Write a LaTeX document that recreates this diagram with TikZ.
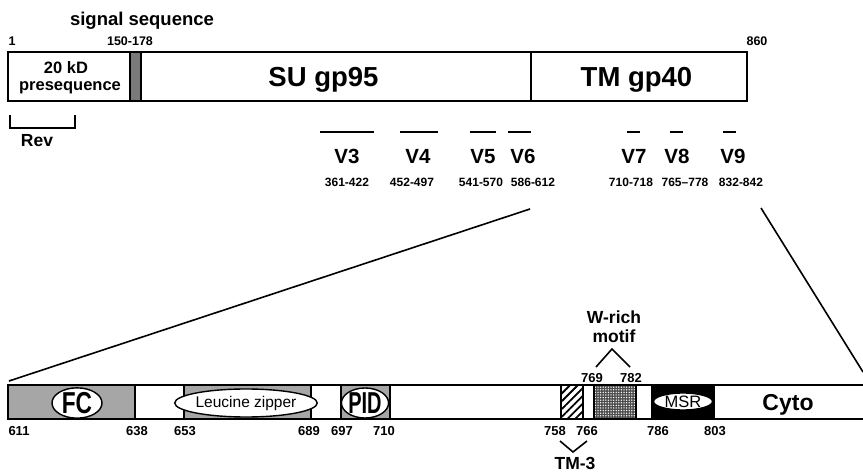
\documentclass[tikz,border=0pt]{standalone}
\usepackage{fontspec}
\setmainfont{Liberation Sans}
\usetikzlibrary{shapes.geometric,patterns.meta}
\definecolor{boxgray}{HTML}{A6A6A6}
\definecolor{siggray}{HTML}{7A7A7A}
\newcommand{\fsz}[1]{\fontsize{#1}{#1}\selectfont}
\tikzset{
  seg/.style={draw, line width=1.7pt, inner sep=0pt, minimum height=49pt},
  bseg/.style={draw, line width=1.6pt, inner sep=0pt, minimum height=34pt},
  oval/.style={ellipse, draw, line width=1.4pt, fill=white, inner sep=0pt},
  lab/.style={anchor=base, inner sep=0pt, font=\bfseries\fsz{12.5}},
  big/.style={anchor=base, inner sep=0pt, font=\bfseries\fsz{27.5}},
  vlab/.style={anchor=base, inner sep=0pt, font=\bfseries\fsz{20.5}},
  mid/.style={anchor=base, inner sep=0pt, font=\bfseries\fsz{17.5}},
  thinline/.style={line width=1.6pt},
}
\begin{document}
\begin{tikzpicture}[x=1pt,y=-1pt]
\useasboundingbox (0,0) rectangle (863,473);
% ---------- top bar ----------
\node[seg, minimum width=122pt] (pre) at (69,76.5) {};
\node[seg, minimum width=11pt, fill=siggray] (sig) at (135.5,76.5) {};
\node[seg, minimum width=390pt] (su) at (336,76.5) {};
\node[seg, minimum width=216pt] (tm) at (639,76.5) {};
\node[anchor=base, inner sep=0pt, font=\bfseries\fsz{16.5}] (t20) at (66,73.5) {20 kD};
\node[anchor=base, inner sep=0pt, font=\bfseries\fsz{16.5}] (tpre) at (70,90.5) {presequence};
\node[big] (tsu) at (323.5,87) {SU gp95};
\node[big] (ttm) at (636.5,87) {TM gp40};
\node[mid, font=\bfseries\fsz{18.5}] (tsig) at (142,26) {signal sequence};
\node[lab] (n1) at (12,46) {1};
\node[lab] (n150) at (130,46) {150-178};
\node[lab] (n860) at (757,46) {860};
% Rev bracket
\draw[thinline] (10,115) -- (10,128) -- (75,128) -- (75,115);
\node[mid] (rev) at (37,147) {Rev};
% V regions
\foreach \a/\b/\c/\name/\rng/\rc in {320/374/347/V3/361-422/347, 400/438/418/V4/452-497/412, 470/496/483/V5/541-570/481, 508/531/523/V6/586-612/533, 627/640/634/V7/710-718/631, 670/683/677/V8/765--778/685, 723/736/733/V9/832-842/741}{
  \draw[line width=1.8pt] (\a,132) -- (\b,132);
  \node[vlab] (l\name) at (\c,164) {\name};
  \node[lab, font=\bfseries\fsz{12}] (r\name) at (\rc,187) {\rng};
}
% ---------- expansion lines ----------
\coordinate (x1) at (530,209);
\coordinate (x2) at (9,381);
\coordinate (x3) at (761,208);
\coordinate (x4) at (863,372);
\draw[thinline] (x1) -- (x2);
\draw[thinline] (x3) -- (x4);
% ---------- bottom bar ----------
\node[bseg, minimum width=127pt, fill=boxgray] (fc) at (71.5,402) {};
\node[bseg, minimum width=127pt, fill=boxgray] (lz) at (247.5,402) {};
\node[bseg, minimum width=49pt, fill=boxgray] (pid) at (365.5,402) {};
\node[bseg, minimum width=22pt, pattern={Lines[angle=45,distance=5.5pt,line width=1.8pt]}] (tm3) at (572,402) {};
\node[bseg, minimum width=42pt, preaction={fill=black!70}, pattern={Dots[distance=2.6pt,radius=0.75pt]}, pattern color=white] (wr) at (615,402) {};
\node[bseg, minimum width=62pt, fill=black] (msr) at (683,402) {};
\draw[line width=1.6pt] (863,385) -- (8,385) -- (8,419) -- (863,419);
\node[oval, minimum width=50pt, minimum height=30pt, font=\bfseries\fsz{27}] (fcE) at (77,403) {\scalebox{0.84}[1.12]{FC}};
\node[oval, minimum width=124pt, minimum height=28pt, font=\fsz{15.5}] (lzE) at (246,403) {Leucine zipper};
\node[oval, minimum width=44pt, minimum height=30pt, font=\bfseries\fsz{27}] (pidE) at (365,403) {\scalebox{0.74}[1.12]{PID}};
\node[oval, minimum width=59pt, minimum height=17pt, font=\fsz{16.5}] (msrE) at (683,401.5) {\raisebox{0pt}[0.7em][0pt]{MSR}};
\node[anchor=base, inner sep=0pt, font=\bfseries\fsz{23}] (cyto) at (788,410) {Cyto};
% numbers
\foreach \x/\t in {19/611, 137/638, 185/653, 309/689, 342/697, 384/710, 555/758, 587/766, 658/786, 715/803}{
  \node[lab, font=\bfseries\fsz{13}] (b\t) at (\x,435) {\t};
}
\node[lab, font=\bfseries\fsz{13}] (w769) at (592,382) {769};
\node[lab, font=\bfseries\fsz{13}] (w782) at (631,382) {782};
% TM-3
\draw[thinline] (560,441) -- (573,452) -- (587,441);
\node[mid] (ttm3) at (575,469) {TM-3};
% W-rich motif
\draw[thinline] (596,367) -- (612,349) -- (630,367);
\node[mid] (tw) at (614,324) {W-rich};
\node[mid] (tmo) at (614,342) {motif};
\end{tikzpicture}
\end{document}
